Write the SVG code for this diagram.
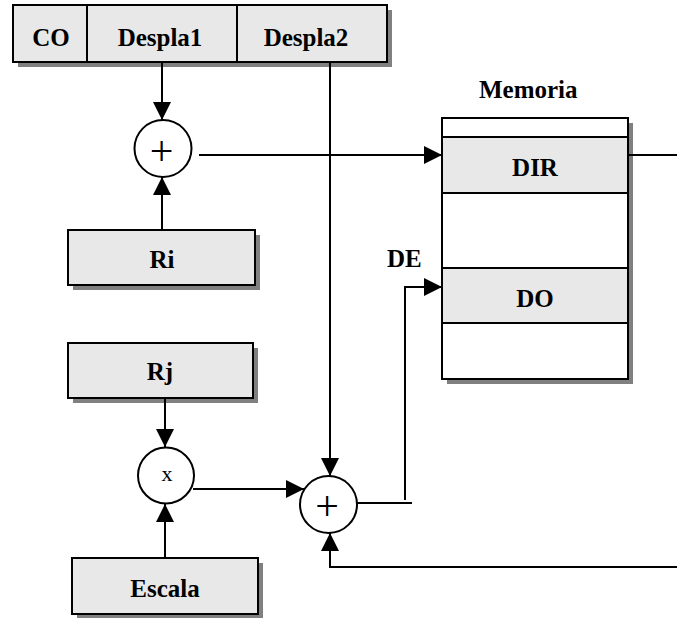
<svg xmlns="http://www.w3.org/2000/svg" width="677" height="618" viewBox="0 0 677 618">
<style>
.box{fill:#e8e8e8;stroke:#000;stroke-width:2}
.white{fill:#fff;stroke:#000;stroke-width:2}
.sh{fill:#808080}
.lbl{font-family:"Liberation Serif","Times New Roman",serif;font-weight:bold;font-size:25px;fill:#000;text-anchor:middle}
.op{font-family:"Liberation Serif","Times New Roman",serif;font-size:42px;fill:#000;text-anchor:middle}
.cir{fill:#fff;stroke:#000;stroke-width:2}
.ln{fill:none;stroke:#000;stroke-width:2}
</style>
<defs>
<marker id="ah" markerUnits="userSpaceOnUse" markerWidth="18" markerHeight="18" refX="18" refY="9" orient="auto">
<path d="M0,0 L18,9 L0,18 z" fill="#000"/>
</marker>
</defs>
<rect width="677" height="618" fill="#fff"/>
<g id="instr">
<rect class="sh" x="18" y="10" width="374" height="57"/>
<rect class="box" x="13" y="5" width="374" height="57"/>
<line class="ln" x1="87" y1="5" x2="87" y2="62"/>
<line class="ln" x1="237" y1="5" x2="237" y2="62"/>
<text class="lbl" x="51" y="46">CO</text>
<text class="lbl" x="160" y="46">Despla1</text>
<text class="lbl" x="306" y="46">Despla2</text>
</g>
<g id="add1">
<circle class="cir" cx="163" cy="148.5" r="28.5"/>
<text class="op" x="161.5" y="165">+</text>
</g>
<g id="ri">
<rect class="sh" x="73" y="235" width="187" height="55"/>
<rect class="box" x="68" y="230" width="187" height="55"/>
<text class="lbl" x="162" y="268">Ri</text>
</g>
<g id="rj">
<rect class="sh" x="73" y="348" width="185" height="55"/>
<rect class="box" x="68" y="343" width="185" height="55"/>
<text class="lbl" x="160" y="380">Rj</text>
</g>
<g id="mul">
<circle class="cir" cx="166" cy="475.5" r="28"/>
<text x="167" y="481" style="font-family:'Liberation Serif','Times New Roman',serif;font-size:22px;text-anchor:middle">x</text>
</g>
<g id="escala">
<rect class="sh" x="77" y="563" width="186" height="56"/>
<rect class="box" x="72" y="558" width="186" height="56"/>
<text class="lbl" x="165" y="597">Escala</text>
</g>
<g id="add2">
<circle class="cir" cx="328.5" cy="504.5" r="28.5"/>
<text class="op" x="327" y="520">+</text>
</g>
<g id="memoria">
<text class="lbl" x="479" y="98" style="text-anchor:start">Memoria</text>
<rect class="sh" x="447" y="123" width="186" height="261"/>
<rect class="white" x="442" y="118" width="186" height="261"/>
<rect class="box" x="442" y="137" width="186" height="56"/>
<rect class="box" x="442" y="268" width="186" height="55"/>
<text class="lbl" x="535" y="176">DIR</text>
<text class="lbl" x="535" y="307">DO</text>
</g>
<g id="de-label">
<text class="lbl" x="387" y="267" style="text-anchor:start">DE</text>
</g>
<g id="connectors">
<line class="ln" x1="162" y1="62" x2="162" y2="120" marker-end="url(#ah)"/>
<line class="ln" x1="162" y1="230" x2="162" y2="177" marker-end="url(#ah)"/>
<line class="ln" x1="199" y1="155" x2="442" y2="155" marker-end="url(#ah)"/>
<line class="ln" x1="628" y1="155" x2="677" y2="155"/>
<line class="ln" x1="330" y1="62" x2="330" y2="476" marker-end="url(#ah)"/>
<line class="ln" x1="165" y1="398" x2="165" y2="447" marker-end="url(#ah)"/>
<line class="ln" x1="165" y1="558" x2="165" y2="504" marker-end="url(#ah)"/>
<line class="ln" x1="193" y1="489" x2="304" y2="489" marker-end="url(#ah)"/>
<line class="ln" x1="357" y1="503" x2="412" y2="503"/>
<polyline class="ln" points="405,500 405,287 442,287" marker-end="url(#ah)"/>
<polyline class="ln" points="677,567 330,567 330,533" marker-end="url(#ah)"/>
</g>
</svg>
